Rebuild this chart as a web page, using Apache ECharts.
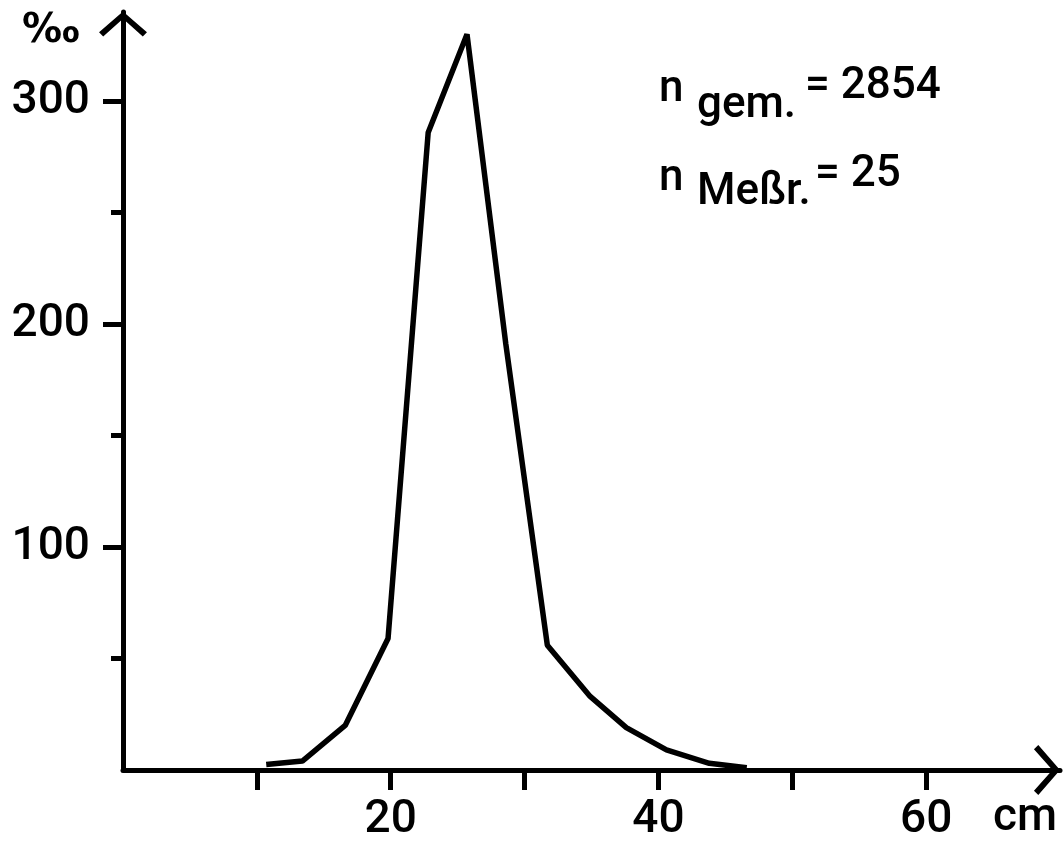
<!DOCTYPE html>
<html>
<head>
<meta charset="utf-8">
<script src="https://cdn.jsdelivr.net/npm/echarts@6/dist/echarts.min.js"></script>
<style>
  html, body { margin: 0; padding: 0; background: #fff; }
  #chart { width: 1063px; height: 843px; }
</style>
</head>
<body>
<div id="chart"></div>
<script>
// Länge (cm) und Anteil (Promille)
const lengthCm = [10.7, 13.4, 16.6, 19.8, 22.8, 25.7, 28.6, 31.7, 34.9, 37.6, 40.6, 43.8, 46.6];
const perMille = [2.5, 4, 20, 59, 286, 330, 191, 56, 33, 19, 9, 3, 1];
const xTicks = [10, 20, 30, 40, 50, 60];
const xLabels = [20, 40, 60];
const yMajor = [100, 200, 300];
const yMinor = [50, 150, 250];

const FONT = 'Roboto';
// offener Pfeil (Spitze oben), wird von echarts entlang der Achse gedreht
const chevron = 'path://M0,20 L23,0 L46,20 L42,24 L23,7 L4,24 Z';

const points = [];
for (let i = 0; i < lengthCm.length; i++) {
  points.push([lengthCm[i], perMille[i]]);
}

// nur Teilstriche, ohne Linie und Beschriftung
function tickAxis(values, len) {
  return {
    type: 'value',
    min: 0,
    max: 340,
    position: 'left',
    splitLine: { show: false },
    axisLine: { show: false },
    axisTick: { show: true, length: len, customValues: values, lineStyle: { color: '#000', width: 5 } },
    axisLabel: { show: false }
  };
}

const chart = echarts.init(document.getElementById('chart'));
const option = {
  animation: false,
  backgroundColor: '#fff',
  grid: { left: 123, right: 3, top: 12, bottom: 73 },
  xAxis: {
    type: 'value',
    min: 0,
    max: 70,
    interval: 10,
    splitLine: { show: false },
    name: 'cm',
    nameLocation: 'end',
    nameGap: -67,
    nameTextStyle: {
      fontFamily: FONT, fontSize: 46, fontWeight: 500, color: '#000',
      align: 'left', verticalAlign: 'top', padding: [25, 0, 0, 0]
    },
    axisLine: {
      lineStyle: { color: '#000', width: 5 },
      symbol: ['none', chevron],
      symbolSize: [50, 27],
      symbolOffset: [0, -13]
    },
    axisTick: { show: true, inside: false, length: 20, customValues: xTicks, lineStyle: { color: '#000', width: 5 } },
    axisLabel: { customValues: xLabels, margin: 27, fontFamily: FONT, fontSize: 46, fontWeight: 500, color: '#000' }
  },
  yAxis: [
    {
      type: 'value',
      min: 0,
      max: 340,
      splitLine: { show: false },
      axisLine: {
        lineStyle: { color: '#000', width: 5 },
        symbol: ['none', chevron],
        symbolSize: [48, 25],
        symbolOffset: [0, -12]
      },
      axisTick: { show: false },
      axisLabel: { customValues: yMajor, margin: 33, fontFamily: FONT, fontSize: 46, fontWeight: 500, color: '#000' }
    },
    tickAxis(yMinor, 12),
    tickAxis(yMajor, 20)
  ],
  graphic: [
    { type: 'text', left: 22, top: 12, style: { text: '‰', fontFamily: 'DejaVu Sans', fontSize: 40, fontWeight: 'bold', fill: '#000' } },
    { type: 'text', left: 659, top: 68, style: { text: 'n', fontFamily: FONT, fontSize: 44, fontWeight: 500, fill: '#000' } },
    { type: 'text', left: 697, top: 84, style: { text: 'gem.', fontFamily: FONT, fontSize: 44, fontWeight: 500, fill: '#000' } },
    { type: 'text', left: 805, top: 65, style: { text: '= 2854', fontFamily: FONT, fontSize: 44, fontWeight: 500, fill: '#000' } },
    { type: 'text', left: 659, top: 157, style: { text: 'n', fontFamily: FONT, fontSize: 44, fontWeight: 500, fill: '#000' } },
    { type: 'text', left: 697, top: 171, style: { text: 'Meßr.', fontFamily: FONT, fontSize: 44, fontWeight: 500, fill: '#000' } },
    { type: 'text', left: 815, top: 153, style: { text: '= 25', fontFamily: FONT, fontSize: 44, fontWeight: 500, fill: '#000' } }
  ],
  series: [
    {
      type: 'line',
      data: points,
      showSymbol: false,
      lineStyle: { color: '#000', width: 5.5 },
      z: 3
    }
  ]
};
chart.setOption(option);
</script>
</body>
</html>
